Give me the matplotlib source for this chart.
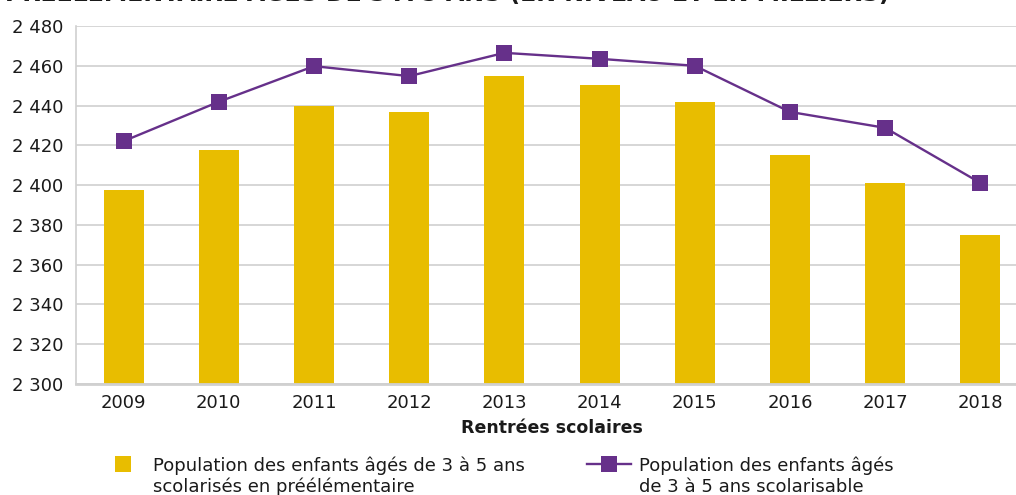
import matplotlib
matplotlib.use("Agg")
import matplotlib.pyplot as plt
from matplotlib.lines import Line2D

plt.rcParams['font.family'] = ['DejaVu Sans']

# Effectifs en milliers, rentrées 2009 à 2018
annees = ['2009', '2010', '2011', '2012', '2013', '2014', '2015', '2016', '2017', '2018']
scolarises = [2397.5, 2417.6, 2439.7, 2436.7, 2454.8, 2450.3, 2441.7, 2415.0, 2401.0, 2374.9]
scolarisable = [2422.1, 2441.9, 2459.8, 2454.8, 2466.5, 2463.5, 2460.0, 2436.8, 2428.8, 2401.1]
yticks = [2300, 2320, 2340, 2360, 2380, 2400, 2420, 2440, 2460, 2480]
legende_bar = ['Population des enfants âgés de 3 à 5 ans', 'scolarisés en préélémentaire']
legende_ligne = ['Population des enfants âgés', 'de 3 à 5 ans scolarisable']

jaune = '#e8bd00'
violet = '#66308a'
gris = '#d0d0d0'
texte = '#1a1a1a'

W, H = 1016, 495
fig = plt.figure(figsize=(W / 100, H / 100), dpi=100)
ax = fig.add_axes([76 / W, 111 / H, 952 / W, 358 / H])

x = range(len(annees))
ax.bar(x, scolarises, width=0.42, color=jaune, zorder=2)
ax.plot(x, scolarisable, color=violet, lw=1.7, marker='s', markersize=11.5,
        markeredgewidth=0, zorder=3)

ax.set_xlim(-0.5, len(annees) - 0.5)
ax.set_ylim(2300, 2480)
ax.set_yticks(yticks)
ax.set_yticklabels([f"{v:,}".replace(",", " ") for v in yticks])
ax.set_xticks(list(x))
ax.set_xticklabels(annees)
ax.tick_params(axis='both', length=0, labelsize=13, colors=texte)
ax.tick_params(axis='y', pad=9)
ax.tick_params(axis='x', pad=7)

ax.grid(axis='y', color=gris, lw=1.2, zorder=0)
ax.set_axisbelow(True)
for s in ['top', 'right']:
    ax.spines[s].set_visible(False)
ax.spines['left'].set_color(gris)
ax.spines['left'].set_linewidth(1.2)
ax.spines['bottom'].set_color(gris)
ax.spines['bottom'].set_linewidth(2)

ax.set_xlabel('Rentrées scolaires', fontsize=12.5, fontweight='bold', labelpad=5,
              color=texte)

# titre, coupé en haut de l'image
fig.text(5 / W, 1 - 1.5 / H, 'PRÉÉLÉMENTAIRE ÂGÉS DE 3 À 5 ANS (EN NIVEAU ET EN MILLIERS)',
         fontsize=17, fontweight='bold', va='baseline', ha='left', color=texte)


def fx(px):
    return px / W


def fy(py):
    return 1 - py / H


# légende : symbole aligné sur la première ligne
fig.add_artist(Line2D([fx(123)], [fy(464)], transform=fig.transFigure, ls='none',
                      marker='s', markersize=11.5, color=jaune, markeredgewidth=0))
fig.add_artist(Line2D([fx(587), fx(631)], [fy(464), fy(464)], transform=fig.transFigure,
                      color=violet, lw=1.7))
fig.add_artist(Line2D([fx(609)], [fy(464)], transform=fig.transFigure, ls='none',
                      marker='s', markersize=11.5, color=violet, markeredgewidth=0))
for i, (a, b) in enumerate(zip(legende_bar, legende_ligne)):
    y = fy(471 + 21 * i)
    fig.text(fx(153), y, a, fontsize=13, va='baseline', color=texte)
    fig.text(fx(639), y, b, fontsize=13, va='baseline', color=texte)

fig.savefig('out.png', dpi=100)
